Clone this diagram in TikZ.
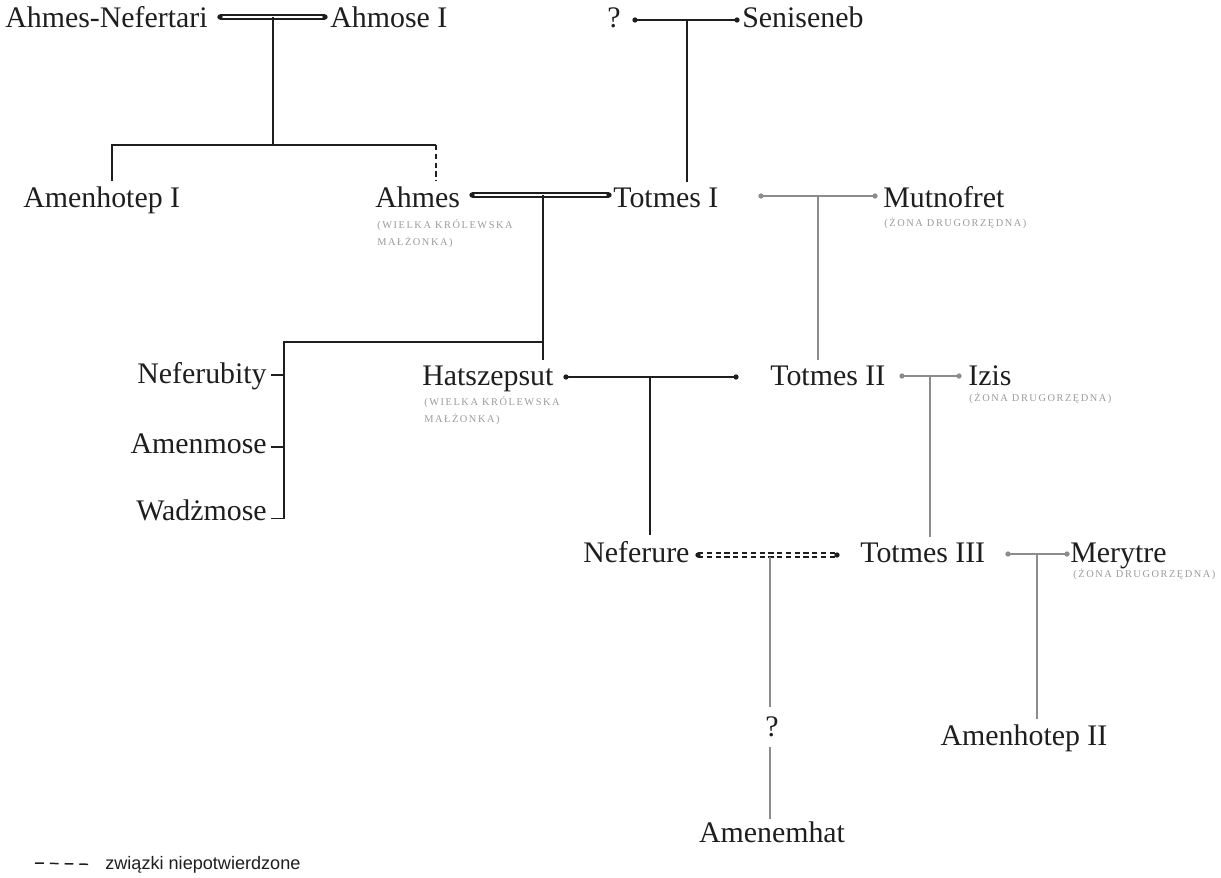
\documentclass[tikz,border=0pt]{standalone}
\usepackage{fontspec}
\setmainfont{Liberation Serif}
\newfontfamily\keyfont{Liberation Sans}
\usetikzlibrary{positioning}

\definecolor{ink}{HTML}{1E1E1E}
\definecolor{faded}{HTML}{8C8C8C}
\definecolor{note}{HTML}{9A9A9A}

\tikzset{
  person/.style={inner sep=0pt, text=ink, font=\fontsize{17}{20}\selectfont},
  rank/.style={inner sep=0pt, text=note, align=left, font=\fontsize{5.9}{9.4}\selectfont\addfontfeature{LetterSpace=15}},
  kin/.style={draw=ink, line width=0.85pt},
  side/.style={draw=faded, line width=0.85pt},
  wed/.style={draw=ink, line width=0.8pt, double=white, double distance=1.4pt},
  guess/.style={dash pattern=on 3pt off 2pt},
  child/.style={shorten >=3pt},
}

\begin{document}
\begin{tikzpicture}[x=0.02cm, y=-0.02cm]
\useasboundingbox (0,0) rectangle (1221,877);

% first generation
\node[person, anchor=base west] (nefertari) at (5,27) {Ahmes-Nefertari};
\node[person, anchor=base west] (ahmose) at (330,27) {Ahmose I};
\node[person, anchor=base west] (unknownA) at (607,27) {?};
\node[person, anchor=base west] (seniseneb) at (742,27) {Seniseneb};

% second generation
\node[person, anchor=base west] (amenhotepI) at (23,207) {Amenhotep I};
\node[person, anchor=base west] (ahmes) at (375,207) {Ahmes};
\node[rank, anchor=base west] (ahmesRank) at (377,245) {(WIELKA KRÓLEWSKA\\MAŁŻONKA)};
\node[person, anchor=base west] (totmesI) at (613,207) {Totmes I};
\node[person, anchor=base west] (mutnofret) at (883,207) {Mutnofret};
\node[rank, anchor=base west] (mutnofretRank) at (884,226) {(ŻONA DRUGORZĘDNA)};

% third generation
\node[person, anchor=base east] (neferubity) at (267,383) {Neferubity};
\node[person, anchor=base east] (amenmose) at (267,453) {Amenmose};
\node[person, anchor=base east] (wadzmose) at (267,520) {Wadżmose};
\node[person, anchor=base west] (hatszepsut) at (422,385) {Hatszepsut};
\node[rank, anchor=base west] (hatszepsutRank) at (424,422) {(WIELKA KRÓLEWSKA\\MAŁŻONKA)};
\node[person, anchor=base west] (totmesII) at (770,385) {Totmes II};
\node[person, anchor=base west] (izis) at (968,385) {Izis};
\node[rank, anchor=base west] (izisRank) at (969,401) {(ŻONA DRUGORZĘDNA)};

% fourth generation
\node[person, anchor=base west] (neferure) at (583,562) {Neferure};
\node[person, anchor=base west] (totmesIII) at (860,562) {Totmes III};
\node[person, anchor=base west] (merytre) at (1070,562) {Merytre};
\node[rank, anchor=base west] (merytreRank) at (1073,577) {(ŻONA DRUGORZĘDNA)};
\node[person, anchor=base] (unknownB) at (772,736) {?};
\node[person, anchor=base] (amenhotepII) at (1024,745) {Amenhotep II};
\node[person, anchor=base] (amenemhat) at (772,842) {Amenemhat};

% legend
\node[anchor=base west, inner sep=0pt, text=ink, font=\keyfont\fontsize{10.3}{12}\selectfont] (key) at (105,869) {związki niepotwierdzone};
\coordinate (keyStart) at (35,863);

% marriages
\coordinate (nefertariE) at (220,17);
\coordinate (ahmoseW) at (325,17);
\coordinate (unknownAE) at (635,20);
\coordinate (senisenebW) at (737,20);
\coordinate (ahmesE) at (472,195);
\coordinate (totmesIW) at (609,195);
\coordinate (totmesIE) at (761,196);
\coordinate (mutnofretW) at (875,196);
\coordinate (hatszepsutE) at (566,377);
\coordinate (hatszepsutR) at (736,377);
\coordinate (totmesIIE) at (902,376);
\coordinate (izisW) at (959,376);
\coordinate (neferureE) at (698,555);
\coordinate (totmesIIIW) at (837,555);
\coordinate (totmesIIIE) at (1008,554);
\coordinate (merytreW) at (1067,554);

% family joins
\coordinate (firstJoin) at (273,17);
\coordinate (firstBar) at (273,145);
\coordinate (firstL) at (112,145);
\coordinate (firstR) at (436,145);
\coordinate (topJoin) at (687,20);
\coordinate (secondJoin) at (543,195);
\coordinate (secondBar) at (543,342);
\coordinate (secondL) at (284,342);
\coordinate (sideJoin) at (818,196);
\coordinate (hatszepsutJoin) at (650,377);
\coordinate (izisJoin) at (930,376);
\coordinate (neferureJoin) at (770,557);
\coordinate (merytreJoin) at (1037,554);
\coordinate (neferubityTick) at ([xshift=2pt, yshift=4.5pt]neferubity.base east);
\coordinate (amenmoseTick) at ([xshift=2pt, yshift=3.5pt]amenmose.base east);
\coordinate (wadzmoseTick) at ([xshift=2pt, yshift=1pt]wadzmose.base east);

\draw[wed]
(nefertariE) -- (ahmoseW)
(ahmesE) -- (totmesIW);

\draw[wed, guess]
(neferureE) -- (totmesIIIW);

\draw[kin]
(unknownAE) -- (senisenebW)
(hatszepsutE) -- (hatszepsutR)
(firstJoin) -- (firstBar)
(secondBar) -- (secondL) -- (secondL |- wadzmoseTick) -- (wadzmoseTick)
(secondL |- neferubityTick) -- (neferubityTick)
(secondL |- amenmoseTick) -- (amenmoseTick);

\draw[kin, shorten <=3pt]
(firstL |- amenhotepI.north) -- (firstL) -- (firstR);

\draw[kin, child]
(firstR) -- (firstR |- ahmes.north) [guess];

\draw[kin, child]
(topJoin) -- (topJoin |- totmesI.north);
\draw[kin, child]
(secondJoin) -- (secondJoin |- hatszepsut.north);
\draw[kin, child]
(hatszepsutJoin) -- (hatszepsutJoin |- neferure.north);

\draw[side]
(totmesIE) -- (mutnofretW)
(totmesIIE) -- (izisW)
(totmesIIIE) -- (merytreW);

\draw[side, child]
(sideJoin) -- (sideJoin |- totmesII.north);
\draw[side, child]
(izisJoin) -- (izisJoin |- totmesIII.north);
\draw[side, child]
(merytreJoin) -- (merytreJoin |- amenhotepII.north);
\draw[side, shorten >=5pt]
(neferureJoin) -- (neferureJoin |- unknownB.north);
\draw[side, shorten <=6pt, shorten >=1pt]
(neferureJoin |- unknownB.south) -- (neferureJoin |- amenemhat.north);

\fill[ink]
(nefertariE) circle (1.5pt) (ahmoseW) circle (1.5pt)
(unknownAE) circle (1.5pt) (senisenebW) circle (1.5pt)
(ahmesE) circle (1.5pt) (totmesIW) circle (1.5pt)
(hatszepsutE) circle (1.5pt) (hatszepsutR) circle (1.5pt)
(neferureE) circle (1.5pt) (totmesIIIW) circle (1.5pt);

\fill[faded]
(totmesIE) circle (1.5pt) (mutnofretW) circle (1.5pt)
(totmesIIE) circle (1.5pt) (izisW) circle (1.5pt)
(totmesIIIE) circle (1.5pt) (merytreW) circle (1.5pt);

\draw[kin, dash pattern=on 5pt off 3.4pt]
(keyStart) -- ([xshift=-8.5pt]key.west);
\end{tikzpicture}
\end{document}
